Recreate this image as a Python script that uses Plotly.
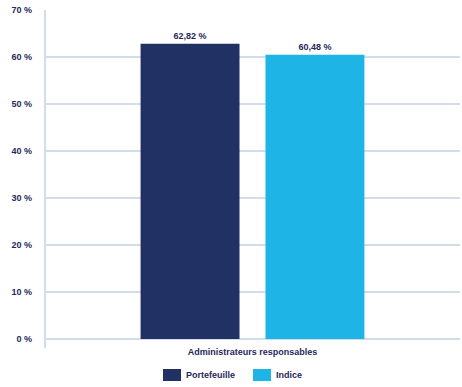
import plotly.graph_objects as go

categories = ["Administrateurs responsables"]
portefeuille = [62.82]
indice = [60.48]
series_names = ["Portefeuille", "Indice"]
series_colors = ["#223163", "#1fb4e6"]
y_ticks = [0, 10, 20, 30, 40, 50, 60, 70]
y_tick_labels = [f"{v} %" for v in y_ticks]

text_color = "#1f2a5a"
grid_color = "#d2ddec"
font_family = "Liberation Sans, Arial, sans-serif"
bold_font = dict(family=font_family, color=text_color, size=9, weight="bold")

fig = go.Figure()
for name, values, color in zip(series_names, [portefeuille, indice], series_colors):
    fig.add_trace(go.Bar(
        x=categories, y=values, name=name,
        marker=dict(color=color, line=dict(width=0)),
        texttemplate="%{y:.2f} %", textposition="outside",
        textfont=bold_font,
        cliponaxis=False,
        showlegend=False,
    ))

# vertical axis line running slightly below the baseline
fig.add_shape(type="line", xref="paper", yref="paper",
              x0=0, x1=0, y0=-0.028, y1=1,
              line=dict(color=grid_color, width=2))

# legend: colour swatch + label for each series
legend_x = [0.2843, 0.5012]
swatch_w = 0.0434
for name, color, lx in zip(series_names, series_colors, legend_x):
    fig.add_shape(type="rect", xref="paper", yref="paper",
                  x0=lx, x1=lx + swatch_w, y0=-0.0912, y1=-0.1277,
                  fillcolor=color, line=dict(width=0))
    fig.add_annotation(xref="paper", yref="paper", x=lx + swatch_w + 0.007,
                       y=-0.1094, xanchor="left", yanchor="middle",
                       text=name, showarrow=False, font=bold_font)

fig.update_layout(
    width=462, height=387,
    margin=dict(l=45, r=2, t=10, b=48, autoexpand=False),
    paper_bgcolor="white", plot_bgcolor="white",
    separators=", ",
    barmode="group", bargap=0.398, bargroupgap=0.208,
    font=dict(family=font_family, color=text_color, size=9),
    showlegend=False,
    xaxis=dict(showgrid=False, showline=False, ticks="",
               tickfont=bold_font, ticklabelstandoff=6),
    yaxis=dict(range=[0, 70], tickmode="array", tickvals=y_ticks,
               ticktext=y_tick_labels,
               showgrid=True, gridcolor=grid_color, gridwidth=1.5,
               zeroline=True, zerolinecolor=grid_color, zerolinewidth=2,
               showline=False, ticks="", ticklen=0,
               tickfont=bold_font, ticklabelstandoff=12),
)

fig.write_html("out.html")
